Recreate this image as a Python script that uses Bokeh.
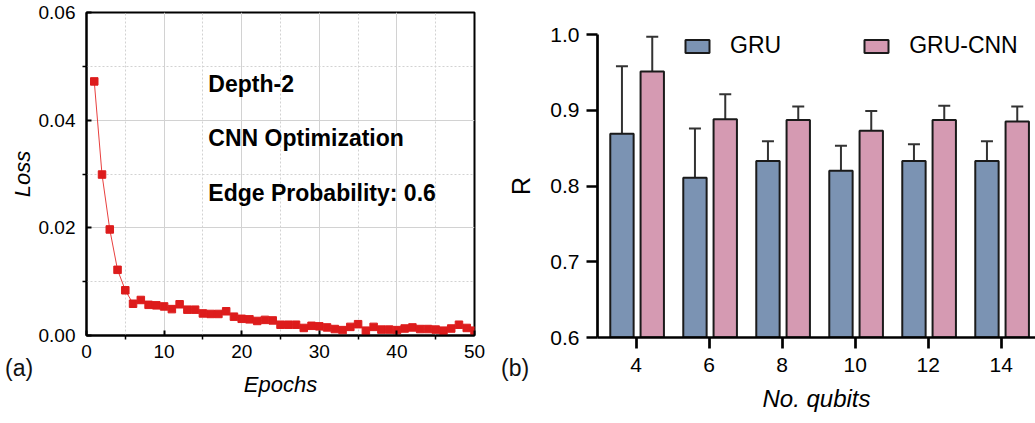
from bokeh.plotting import figure
from bokeh.layouts import row, column
from bokeh.models import (ColumnDataSource, FixedTicker, NumeralTickFormatter, Label,
                          Whisker, TeeHead, Range1d, Div)
from bokeh.transform import dodge
from bokeh.embed import file_html
from bokeh.resources import INLINE

FONT = "Liberation Sans"

# ---------------- data: panel (a) ----------------
epochs = list(range(1, 51))
loss = [0.0472, 0.0299, 0.0197, 0.0122, 0.0084, 0.0059, 0.0066, 0.0057, 0.0056, 0.0054,
        0.0049, 0.0058, 0.0048, 0.0048, 0.0041, 0.0040, 0.0040, 0.0045, 0.0035, 0.0031,
        0.0030, 0.0027, 0.0029, 0.0028, 0.0020, 0.0020, 0.0020, 0.0014, 0.0018, 0.0017,
        0.0015, 0.0012, 0.0010, 0.0016, 0.0021, 0.0009, 0.0016, 0.0011, 0.0011, 0.0010,
        0.0013, 0.0015, 0.0012, 0.0012, 0.0011, 0.0009, 0.0013, 0.0020, 0.0014, 0.0009]
x_ticks_a = [0, 10, 20, 30, 40, 50]
x_minor_a = [5, 15, 25, 35, 45]
y_ticks_a = [0.0, 0.02, 0.04, 0.06]
y_minor_a = [0.01, 0.03, 0.05]
notes = ["Depth-2", "CNN Optimization", "Edge Probability: 0.6"]
note_x = [15.7, 15.7, 15.7]
note_y = [0.0468, 0.0366, 0.0265]

# ---------------- data: panel (b) ----------------
qubits = [4, 6, 8, 10, 12, 14]
gru = [0.869, 0.811, 0.833, 0.820, 0.833, 0.833]
gru_err = [0.089, 0.065, 0.026, 0.033, 0.022, 0.026]
gru_cnn = [0.951, 0.888, 0.887, 0.873, 0.887, 0.885]
gru_cnn_err = [0.046, 0.033, 0.018, 0.026, 0.019, 0.020]
y_ticks_b = [0.6, 0.7, 0.8, 0.9, 1.0]

# ================= panel (a) =================
p1 = figure(width=495, height=423, x_range=Range1d(0, 50), y_range=Range1d(0, 0.06),
            title=None, output_backend="svg", toolbar_location=None,
            min_border_left=86, min_border_right=21, min_border_top=12, min_border_bottom=88)
p1.background_fill_color = "white"
p1.border_fill_color = "white"
p1.outline_line_color = "black"
p1.outline_line_width = 2
p1.outline_line_alpha = 1

p1.xaxis.ticker = FixedTicker(ticks=x_ticks_a, minor_ticks=x_minor_a)
p1.yaxis.ticker = FixedTicker(ticks=y_ticks_a, minor_ticks=y_minor_a)
p1.xgrid.ticker = FixedTicker(ticks=x_ticks_a, minor_ticks=x_minor_a)
p1.ygrid.ticker = FixedTicker(ticks=y_ticks_a, minor_ticks=y_minor_a)
p1.yaxis.formatter = NumeralTickFormatter(format="0.00")
for g in (p1.xgrid, p1.ygrid):
    g.grid_line_color = "#d2d2d2"
    g.grid_line_width = 1
    g.minor_grid_line_color = "#d2d2d2"
    g.minor_grid_line_dash = "2 2"
    g.minor_grid_line_width = 1

for ax in (p1.xaxis, p1.yaxis):
    ax.axis_line_width = 2
    ax.axis_line_color = "black"
    ax.major_tick_line_width = 2
    ax.major_tick_line_color = "black"
    ax.major_tick_in = 5
    ax.major_tick_out = 0
    ax.minor_tick_in = 0
    ax.minor_tick_out = 4
    ax.minor_tick_line_width = 1.5
    ax.minor_tick_line_color = "black"
    ax.major_label_text_font = FONT
    ax.major_label_text_font_size = "19px"
    ax.major_label_text_color = "black"
    ax.axis_label_text_font = FONT
    ax.axis_label_text_font_size = "22px"
    ax.axis_label_text_font_style = "italic"
    ax.axis_label_text_color = "black"
p1.xaxis.axis_label = "Epochs"
p1.yaxis.axis_label = "Loss"
p1.xaxis.major_label_standoff = 5
p1.yaxis.major_label_standoff = 7
p1.xaxis.axis_label_standoff = 11
p1.yaxis.axis_label_standoff = 1

src_a = ColumnDataSource(dict(x=epochs, y=loss))
p1.line("x", "y", source=src_a, line_color="#e8403f", line_width=1)
p1.scatter("x", "y", source=src_a, marker="square", size=7.5,
           fill_color="#dd1c1c", line_color="#dd1c1c")

for tx, ty, tt in zip(note_x, note_y, notes):
    p1.add_layout(Label(x=tx, y=ty, text=tt, text_font=FONT, text_font_size="23px",
                        text_font_style="bold", text_color="black",
                        text_baseline="alphabetic", text_align="left"))

# ================= panel (b) =================
p2 = figure(width=540, height=423, x_range=Range1d(2.94, 14.94), y_range=Range1d(0.6, 1.0),
            title=None, output_backend="svg", toolbar_location=None,
            min_border_left=102, min_border_right=0, min_border_top=34, min_border_bottom=86)
p2.background_fill_color = "white"
p2.border_fill_color = "white"
p2.outline_line_color = None
p2.xgrid.visible = False
p2.ygrid.visible = False

p2.xaxis.ticker = FixedTicker(ticks=qubits, minor_ticks=[])
p2.yaxis.ticker = FixedTicker(ticks=y_ticks_b, minor_ticks=[])
p2.yaxis.formatter = NumeralTickFormatter(format="0.0")
for ax in (p2.xaxis, p2.yaxis):
    ax.axis_line_width = 2.7
    ax.axis_line_color = "black"
    ax.major_tick_line_width = 2.7
    ax.major_tick_line_color = "black"
    ax.major_tick_in = 0
    ax.major_tick_out = 11
    ax.minor_tick_line_color = None
    ax.major_label_text_font = FONT
    ax.major_label_text_font_size = "21px"
    ax.major_label_text_color = "black"
    ax.axis_label_text_font = FONT
    ax.axis_label_text_color = "black"
p2.xaxis.axis_label = "No. qubits"
p2.xaxis.axis_label_text_font_style = "italic"
p2.xaxis.axis_label_text_font_size = "24px"
p2.yaxis.axis_label = "R"
p2.yaxis.axis_label_text_font_style = "normal"
p2.yaxis.axis_label_text_font_size = "25px"
p2.xaxis.major_label_standoff = 9
p2.yaxis.major_label_standoff = 7
p2.xaxis.axis_label_standoff = 10
p2.yaxis.axis_label_standoff = 12

src_b = ColumnDataSource(dict(
    q=qubits, gru=gru, gru_top=[v + e for v, e in zip(gru, gru_err)],
    cnn=gru_cnn, cnn_top=[v + e for v, e in zip(gru_cnn, gru_cnn_err)]))

BLUE = "#7b93b3"
PINK = "#d59ab2"
p2.vbar(x=dodge("q", -0.39, range=p2.x_range), top="gru", bottom=0, width=0.64,
        source=src_b, fill_color=BLUE, line_color="#1a1a1a", line_width=2,
        legend_label="GRU")
p2.vbar(x=dodge("q", 0.44, range=p2.x_range), top="cnn", bottom=0, width=0.64,
        source=src_b, fill_color=PINK, line_color="#1a1a1a", line_width=2,
        legend_label="GRU-CNN")

for off, lo, hi in ((-0.39, "gru", "gru_top"), (0.44, "cnn", "cnn_top")):
    w = Whisker(base=dodge("q", off, range=p2.x_range), lower=lo, upper=hi, source=src_b,
                dimension="height", line_color="#333333", line_width=2,
                upper_head=TeeHead(size=12, line_color="#333333", line_width=2),
                lower_head=None)
    p2.add_layout(w)

leg = p2.legend[0]
leg.orientation = "horizontal"
leg.location = (85, 278)
leg.label_text_font = FONT
leg.label_text_font_size = "23px"
leg.label_text_color = "black"
leg.label_height = 26
leg.glyph_width = 30
leg.glyph_height = 16
leg.label_standoff = 18
leg.spacing = 80
leg.padding = 0
leg.margin = 0
leg.border_line_color = None
leg.background_fill_alpha = 0

panel_css = {"position": "absolute", "font-family": FONT, "font-size": "23px",
             "line-height": "25px", "color": "#111111", "margin": "0", "padding": "0"}
div_a = Div(text="(a)", styles=dict(panel_css, left="5px", top="356px"))
div_b = Div(text="(b)", styles=dict(panel_css, left="501px", top="356px"))

layout = row(column(p1), column(p2), div_a, div_b)
open("out.html", "w").write(file_html(layout, INLINE))
